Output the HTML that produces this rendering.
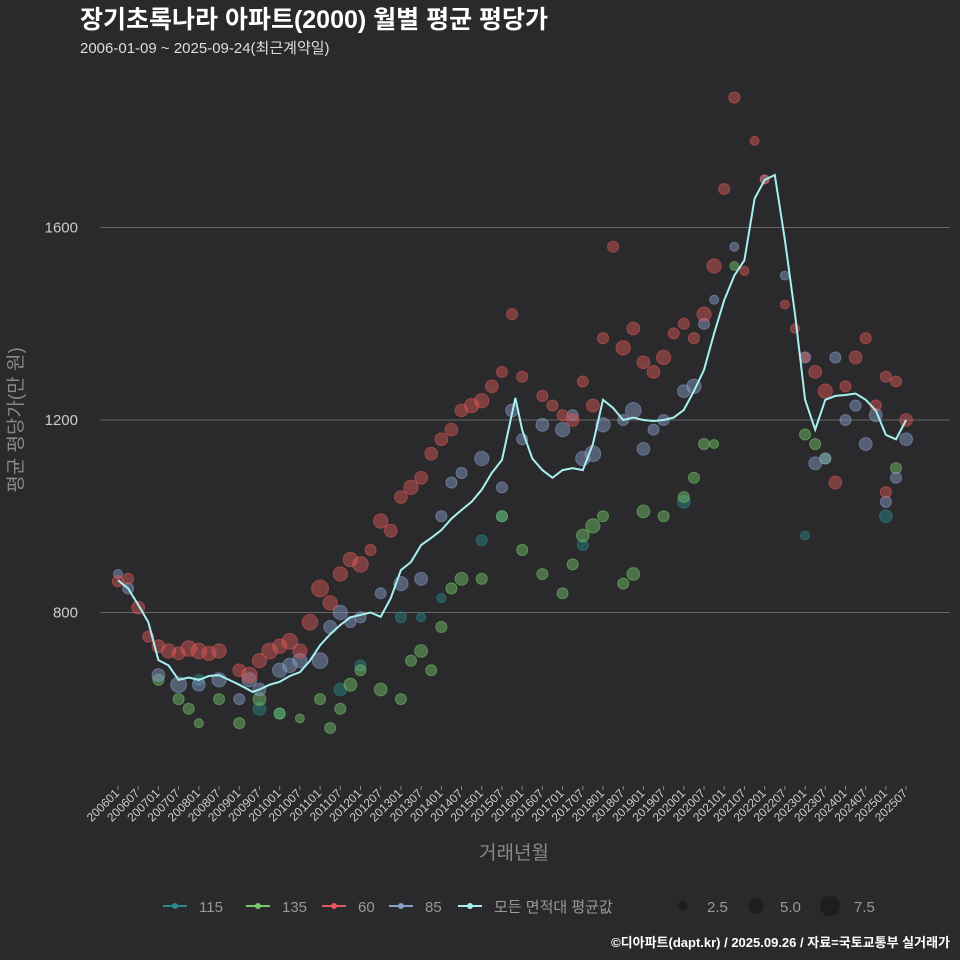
<!DOCTYPE html>
<html><head><meta charset="utf-8"><style>
body{margin:0;background:#2a2a2c;overflow:hidden;}
svg{display:block;}
svg text{font-family:"Liberation Sans","Noto Sans CJK KR",sans-serif;}
</style></head><body>
<svg id="c" width="960" height="960" viewBox="0 0 960 960" xmlns="http://www.w3.org/2000/svg">
<rect width="960" height="960" fill="#2a2a2c"/>
<text x="80" y="28" font-size="25" font-weight="bold" fill="#fff">장기초록나라 아파트(2000) 월별 평균 평당가</text>
<text x="80" y="53" font-size="15" fill="#ddd">2006-01-09 ~ 2025-09-24(최근계약일)</text>
<g id="grid"></g><g id="pts"></g><g id="line"></g><g id="axes"></g>
<text x="514" y="859" font-size="19" fill="#888" text-anchor="middle">거래년월</text>
<text transform="translate(22,420) rotate(-90)" font-size="19" fill="#888" text-anchor="middle">평균 평당가(만 원)</text>
<g id="legend"></g>
<text x="950" y="947" font-size="13" font-weight="bold" fill="#fff" text-anchor="end">©디아파트(dapt.kr) / 2025.09.26 / 자료=국토교통부 실거래가</text>
</svg>
<script>
const yTicks=[800,1200,1600];
const avgMonths=["200601","200604","200607","200610","200701","200704","200707","200710","200801","200804","200807","200810","200901","200905","200907","200910","201001","201004","201007","201010","201101","201104","201107","201110","201201","201204","201207","201210","201301","201304","201307","201310","201401","201404","201407","201410","201501","201504","201507","201511","201601","201604","201607","201610","201701","201704","201707","201710","201801","201804","201807","201810","201901","201904","201907","201910","202001","202004","202007","202010","202101","202104","202107","202110","202201","202204","202207","202210","202301","202304","202307","202310","202401","202404","202407","202410","202501","202504","202507"];
const avgValues=[867,850,816,780,701,690,660,665,660,668,670,660,650,635,640,650,656,668,676,700,732,755,774,790,795,800,791,830,888,905,940,955,971,995,1013,1030,1055,1090,1117,1246,1179,1120,1096,1080,1096,1100,1096,1150,1242,1225,1200,1205,1200,1198,1200,1205,1221,1260,1304,1380,1449,1500,1532,1660,1699,1709,1574,1420,1242,1180,1242,1250,1252,1255,1242,1220,1169,1160,1200];
const s60m=["200601","200604","200607","200610","200701","200704","200707","200710","200801","200804","200807","200901","200904","200907","200910","201001","201004","201007","201010","201101","201104","201107","201110","201201","201204","201207","201210","201301","201304","201307","201310","201401","201404","201407","201410","201501","201504","201507","201510","201601","201607","201610","201701","201704","201707","201710","201801","201804","201807","201810","201901","201904","201907","201910","202001","202004","202007","202010","202101","202104","202107","202110","202201","202207","202210","202301","202304","202307","202310","202401","202404","202407","202410","202501","202504","202507","202501"];
const s60v=[865,870,810,750,730,720,715,725,720,715,720,680,670,700,720,730,740,720,780,850,820,880,910,900,930,990,970,1040,1060,1080,1130,1160,1180,1220,1230,1240,1270,1300,1420,1290,1250,1230,1210,1200,1280,1230,1370,1560,1350,1390,1320,1300,1330,1380,1400,1370,1420,1520,1680,1870,1510,1780,1700,1440,1390,1330,1300,1260,1070,1270,1330,1370,1230,1290,1280,1200,1050];
const s60s=[3,3,4,3,4,5,4,6,6,5,5,4,6,5,6,5,6,5,6,7,5,5,5,6,3,5,4,4,5,4,4,4,4,4,5,5,4,3,3,3,3,3,3,4,3,4,3,3,5,4,4,4,5,3,3,3,5,5,3,3,2,2,2,2,2,2,4,5,4,3,4,3,3,3,3,4,3];
const s85m=["200601","200604","200701","200707","200801","200807","200901","200904","200907","201001","201004","201007","201101","201104","201107","201110","201201","201207","201301","201307","201401","201404","201407","201501","201507","201510","201601","201607","201701","201704","201707","201710","201801","201807","201810","201901","201904","201907","202001","202004","202007","202010","202104","202201","202207","202301","202304","202307","202310","202401","202404","202407","202410","202501","202504","202507"];
const s85v=[880,850,670,650,650,660,620,660,640,680,690,700,700,770,800,780,790,840,860,870,1000,1070,1090,1120,1060,1220,1160,1190,1180,1210,1120,1130,1190,1200,1220,1140,1180,1200,1260,1270,1400,1450,1560,1700,1500,1330,1110,1120,1330,1200,1230,1150,1210,1030,1080,1160];
const s85s=[2,3,4,6,4,5,3,5,4,5,5,5,6,4,5,3,3,3,5,4,3,3,3,5,3,4,3,4,5,3,5,6,5,3,6,4,3,3,4,5,3,2,2,2,2,3,4,3,3,3,3,4,4,3,3,4];
const s135m=["200701","200707","200710","200801","200807","200901","200907","201001","201007","201101","201104","201107","201110","201201","201207","201301","201304","201307","201310","201401","201404","201407","201501","201507","201601","201607","201701","201704","201707","201710","201801","201807","201810","201901","201907","202001","202004","202007","202010","202104","202301","202304","202307","202504"];
const s135v=[660,620,600,570,620,570,620,590,580,620,560,600,650,680,640,620,700,720,680,770,850,870,870,1000,930,880,840,900,960,980,1000,860,880,1010,1000,1040,1080,1150,1150,1520,1170,1150,1120,1100];
const s135s=[3,3,3,2,3,3,4,3,2,3,3,3,4,3,4,3,3,4,3,3,3,4,3,3,3,3,3,3,4,5,3,3,4,4,3,3,3,3,2,2,3,3,3,3];
const s115m=["200801","200907","201001","201107","201201","201301","201307","201401","201501","201507","201707","202001","202301","202501"];
const s115v=[660,600,590,640,690,790,790,830,950,1000,940,1030,960,1000];
const s115s=[3,4,3,4,3,3,2,2,3,3,3,4,2,4];
const xTickStart=2006, xTickEnd=2025;

const NS="http://www.w3.org/2000/svg";
const X0=118,PXM=3.368,YB=420,PXV=0.48125;
function mi(s){return (parseInt(s.slice(0,4))-2006)*12+parseInt(s.slice(4))-1;}
function xs(s){return X0+mi(s)*PXM;}
function ys(v){return YB-(v-1200)*PXV;}
function mk(t,a,p){const e=document.createElementNS(NS,t);for(const k in a)e.setAttribute(k,a[k]);p.appendChild(e);return e;}
const grid=document.getElementById('grid'),axes=document.getElementById('axes');
yTicks.forEach(v=>{
 const l=mk('line',{x1:100,x2:950,y1:ys(v),y2:ys(v),stroke:'#666','stroke-width':1},grid);
 
 
 const t=mk('text',{x:78,y:ys(v)+5,'font-size':15,fill:'#ccc','text-anchor':'end'},axes);
 t.textContent=v;
 
 
});
for(let y=xTickStart;y<=xTickEnd;y++){for(const m of ["01","07"]){
 const s=y+m;const x=xs(s);
 const tk=mk('line',{x1:x,x2:x,y1:786,y2:790,stroke:'#888'},axes);
 
 
 const t=mk('text',{transform:`translate(${x+2},${794}) rotate(-45)`,'font-size':12,fill:'#ccc','text-anchor':'end'},axes);
 t.textContent=s;
 
 
}}
const pts=document.getElementById('pts');
function series(ms,vs,ss,col,name){ms.forEach((m,i)=>{
 const c=mk('circle',{cx:xs(m),cy:ys(vs[i]),r:Math.sqrt(ss[i])*3.2,fill:col,'fill-opacity':0.45,stroke:col,'stroke-opacity':0.5},pts);
 
 
});}
series(s115m,s115v,s115s,'#2a8a8a','point-115');
series(s135m,s135v,s135s,'#76c86a','point-135');
series(s85m,s85v,s85s,'#8aa0cc','point-85');
series(s60m,s60v,s60s,'#e05858','point-60');
const d=avgMonths.map((m,i)=>(i?'L':'M')+xs(m).toFixed(1)+' '+ys(avgValues[i]).toFixed(1)).join(' ');
const pl=mk('path',{d:d,fill:'none',stroke:'#a8f0f0','stroke-width':2},document.getElementById('line'));


const lg=document.getElementById('legend');
const items=[['115','#2a8a8a',163],['135','#76c86a',246],['60','#e05858',322],['85','#8aa0cc',389],['모든 면적대 평균값','#a8f0f0',458]];
items.forEach(([lab,col,x])=>{
 const g=mk('g',{},lg);
 
 
 mk('line',{x1:x,x2:x+24,y1:906,y2:906,stroke:col,'stroke-width':2},g);
 mk('circle',{cx:x+12,cy:906,r:3,fill:col},g);
 const t=mk('text',{x:x+36,y:912,'font-size':15,fill:'#999'},g);t.textContent=lab;
});
[[683,5,'2.5'],[756,8,'5.0'],[830,10,'7.5']].forEach(([x,r,lab])=>{
 const g=mk('g',{},lg);
 
 
 mk('circle',{cx:x,cy:906,r:r,fill:'#1e1e1e'},g);
 const t=mk('text',{x:x+24,y:912,'font-size':15,fill:'#999'},g);t.textContent=lab;
});
</script>
</body></html>
